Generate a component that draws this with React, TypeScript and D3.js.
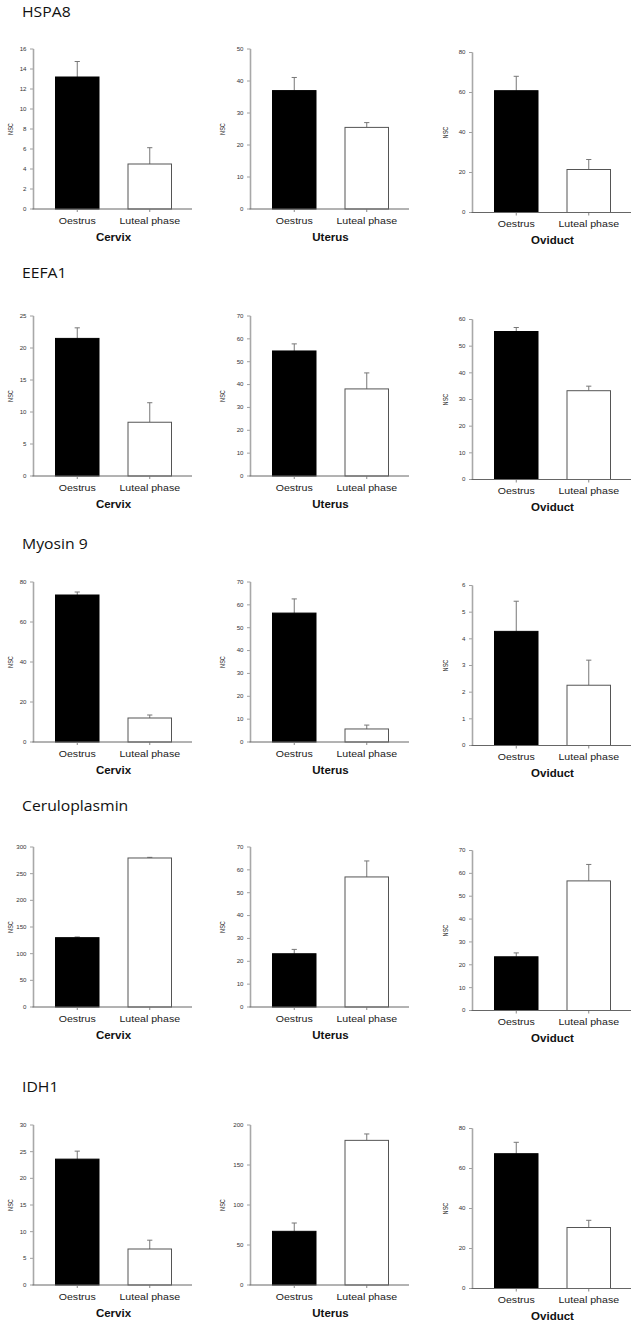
import React from "react";
import * as d3 from "d3";

// ---- data ----
const genes = ["HSPA8", "EEFA1", "Myosin 9", "Ceruloplasmin", "IDH1"];
const tissues = ["Cervix", "Uterus", "Oviduct"];
const phases = ["Oestrus", "Luteal phase"];

// y-axis maximum and tick step per gene (row) and tissue (column)
const yMax = [
  [16, 50, 80],
  [25, 70, 60],
  [80, 70, 6],
  [300, 70, 70],
  [30, 200, 80],
];
const tickStep = [
  [2, 10, 20],
  [5, 10, 10],
  [20, 10, 1],
  [50, 10, 10],
  [5, 50, 20],
];

// mean NSC values
const oestrusMean = [
  [13.2, 37.0, 60.9],
  [21.5, 54.7, 55.5],
  [73.5, 56.4, 4.28],
  [130, 23.3, 23.5],
  [23.6, 67.1, 67.4],
];
const lutealMean = [
  [4.5, 25.5, 21.5],
  [8.4, 38.1, 33.3],
  [12.0, 5.7, 2.26],
  [279.4, 56.9, 56.7],
  [6.75, 180.8, 30.5],
];
// error (SE) values
const oestrusErr = [
  [1.55, 4.1, 7.2],
  [1.65, 3.1, 1.5],
  [1.5, 6.2, 1.13],
  [1.3, 1.9, 1.7],
  [1.5, 10.4, 5.7],
];
const lutealErr = [
  [1.63, 1.5, 5.0],
  [3.05, 7.0, 1.7],
  [1.5, 1.7, 0.94],
  [1.2, 7.0, 7.2],
  [1.65, 8.0, 3.6],
];

// ---- layout ----
const W = 632;
const H = 1323;
const colAxisX = [33.5, 250.5, 472.5];
const nscOffset = [21, 25.5, 24.5];
const rowTop = [49, 316, 582, 847, 1125];
const colTopShift = [0, 0, 3.5];
const titleBaseline = [16.7, 278, 549, 811, 1092];
const plotH = 160;
const SX = 1.14;
const FONT = "'Liberation Sans', Arial, Helvetica, sans-serif";

function STxt(props: any) {
  const { x, y, sx = SX, rot = 0, children, ...rest } = props;
  return (
    <text
      transform={`translate(${x},${y}) scale(${sx},1)${rot ? ` rotate(${rot})` : ""}`}
      {...rest}
    >
      {children}
    </text>
  );
}

function Panel({ r, c }: { r: number; c: number }) {
  const ax = colAxisX[c];
  const top = rowTop[r] + colTopShift[c];
  const bottom = top + plotH;
  const xEnd = ax + 158.5;
  const y = d3.scaleLinear().domain([0, yMax[r][c]]).range([bottom, top]);
  const x = d3
    .scaleBand<string>()
    .domain(phases)
    .range([ax + 22, ax + 138])
    .paddingInner(0.4)
    .paddingOuter(0);
  const ticks = d3.range(0, yMax[r][c] + tickStep[r][c] / 2, tickStep[r][c]);
  const means = [oestrusMean[r][c], lutealMean[r][c]];
  const errs = [oestrusErr[r][c], lutealErr[r][c]];
  const midX = (ax + 22 + ax + 138) / 2;
  return (
    <g>
      {/* y ticks */}
      {ticks.map((t) => (
        <g key={t}>
          <line x1={ax - 3.5} x2={ax} y1={y(t)} y2={y(t)} stroke="#a0a0a0" strokeWidth={1} />
          <STxt
            x={ax - 7}
            y={y(t)}
            textAnchor="end"
            dominantBaseline="central"
            fontSize={5.4}
            fontFamily={FONT}
            fill="#333"
          >
            {String(t)}
          </STxt>
        </g>
      ))}
      {/* y axis */}
      <line x1={ax} x2={ax} y1={top} y2={bottom} stroke="#a8a8a8" strokeWidth={1.6} />
      <STxt
        x={ax - nscOffset[c]}
        y={(top + bottom) / 2}
        rot={-90}
        textAnchor="middle"
        fontSize={5.6}
        fontFamily={FONT}
        fill="#222"
      >
        NSC
      </STxt>
      {/* bars */}
      {phases.map((p, i) => {
        const bx = x(p) as number;
        const bw = x.bandwidth();
        const cx = bx + bw / 2;
        const yTop = y(means[i]);
        const yErr = y(means[i] + errs[i]);
        return (
          <g key={p}>
            <line x1={cx} x2={cx} y1={yTop} y2={yErr} stroke="#777" strokeWidth={1} />
            <line x1={cx - 2.6} x2={cx + 2.6} y1={yErr} y2={yErr} stroke="#777" strokeWidth={1} />
            <rect
              x={bx}
              y={yTop}
              width={bw}
              height={bottom - yTop}
              fill={i === 0 ? "#000" : "#fff"}
              stroke={i === 0 ? "#000" : "#555"}
              strokeWidth={1}
            />
            <line x1={cx} x2={cx} y1={bottom} y2={bottom + 3} stroke="#888" strokeWidth={1} />
            <STxt
              x={cx}
              y={bottom + 14.8}
              textAnchor="middle"
              fontSize={9.3}
              fontFamily={FONT}
              fill="#222"
            >
              {p}
            </STxt>
          </g>
        );
      })}
      {/* x axis */}
      <line x1={ax - 1} x2={xEnd} y1={bottom} y2={bottom} stroke="#666" strokeWidth={1} />
      <text
        x={midX}
        y={bottom + 31.8}
        textAnchor="middle"
        fontSize={11.5}
        fontWeight="bold"
        fontFamily={FONT}
        fill="#111"
      >
        {tissues[c]}
      </text>
    </g>
  );
}

export default function App() {
  return (
    <svg
      width={W}
      height={H}
      style={{ position: "absolute", left: 0, top: 0, display: "block", background: "#fff" }}
    >
      <rect x={0} y={0} width={W} height={H} fill="#fff" />
      {genes.map((g, r) => (
        <g key={g}>
          <STxt
            x={22}
            y={titleBaseline[r]}
            sx={1.05}
            fontSize={15}
            fontFamily="'Open Sans', 'Noto Sans', sans-serif"
            fill="#111"
          >
            {g}
          </STxt>
          {tissues.map((t, c) => (
            <Panel key={t} r={r} c={c} />
          ))}
        </g>
      ))}
    </svg>
  );
}
